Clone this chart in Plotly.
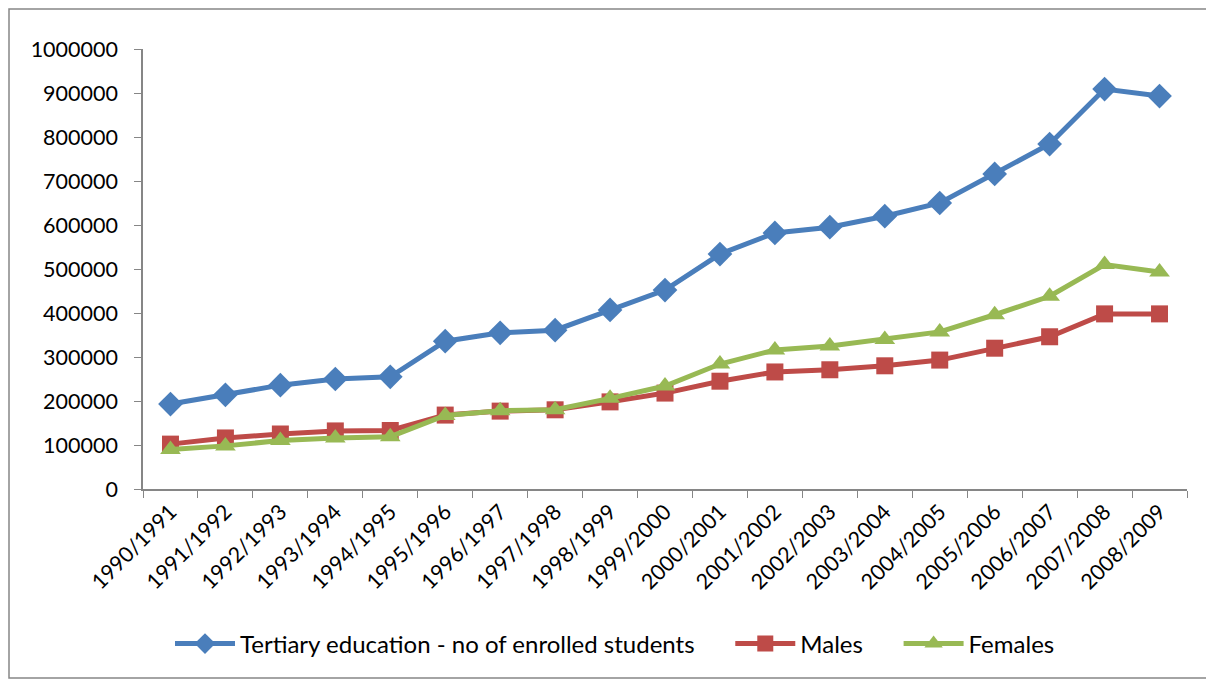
import plotly.graph_objects as go

categories = ["1990/1991", "1991/1992", "1992/1993", "1993/1994", "1994/1995",
              "1995/1996", "1996/1997", "1997/1998", "1998/1999", "1999/2000",
              "2000/2001", "2001/2002", "2002/2003", "2003/2004", "2004/2005",
              "2005/2006", "2006/2007", "2007/2008", "2008/2009"]

tertiary = [193000, 214000, 236000, 250000, 255000, 336000, 355000, 361000, 407000,
            452000, 534000, 582000, 595000, 620000, 650000, 716000, 784000, 909000, 893000]
males = [102000, 116000, 125000, 132000, 133000, 168000, 177000, 180000, 198000,
         218000, 245000, 266000, 271000, 280000, 293000, 320000, 346000, 398000, 398000]
females = [90000, 98000, 110000, 116000, 119000, 167000, 178000, 180000, 206000,
           234000, 284000, 316000, 325000, 340000, 357000, 396000, 438000, 510000, 493000]

series_names = ["Tertiary education - no of enrolled students", "Males", "Females"]

y_ticks = [0, 100000, 200000, 300000, 400000, 500000, 600000, 700000, 800000, 900000, 1000000]

font_family = "Lato, 'Open Sans', sans-serif"
nb = "\u00a0"

fig = go.Figure()
fig.add_trace(go.Scatter(x=categories, y=tertiary, mode="lines+markers",
                         name=series_names[0] + nb * 5,
                         line=dict(color="#4A7EBB", width=5),
                         marker=dict(symbol="diamond", size=19, color="#4A7EBB")))
fig.add_trace(go.Scatter(x=categories, y=males, mode="lines+markers", name=series_names[1] + nb * 5,
                         line=dict(color="#BE4B48", width=5),
                         marker=dict(symbol="square", size=17, color="#BE4B48")))
fig.add_trace(go.Scatter(x=categories, y=females, mode="lines+markers", name=series_names[2],
                         line=dict(color="#98B954", width=5),
                         marker=dict(symbol="triangle-up", size=18, color="#98B954")))

W, H = 1206, 672
L, R, T, B = 135, 27, 41, 191
pw, ph = W - L - R, H - T - B

fig.update_layout(
    width=W, height=H,
    margin=dict(l=L, r=R, t=T, b=B, autoexpand=False),
    paper_bgcolor="white", plot_bgcolor="white",
    font=dict(family=font_family, size=21, color="black"),
    showlegend=True,
    legend=dict(orientation="h", x=(607 - L) / pw, xanchor="center",
                y=(481 - 636) / ph, yanchor="middle",
                font=dict(size=24), itemwidth=60, traceorder="normal"),
    xaxis=dict(type="category", range=[-0.5, len(categories) - 0.5],
               tickson="boundaries", ticks="outside", ticklen=7,
               tickcolor="#868686", showline=True, linecolor="#868686", linewidth=1.5,
               tickangle=-45, showgrid=False, zeroline=False, automargin=False,
               tickfont=dict(size=21.5)),
    yaxis=dict(range=[0, 1000000], tickvals=y_ticks, ticktext=[str(v) for v in y_ticks],
               ticks="outside", ticklen=7, tickcolor="#868686", showline=True,
               linecolor="#868686", linewidth=1.5, showgrid=False, zeroline=False,
               automargin=False, tickfont=dict(size=21.5), ticklabelstandoff=12),
    shapes=[dict(type="rect", xref="paper", yref="paper", x0=-(L - 1) / pw, x1=1 + (R - 2) / pw,
                 y0=-(B - 2) / ph, y1=1 + (T - 1) / ph, line=dict(color="#868686", width=1.5))],
)

fig.write_html("out.html")
